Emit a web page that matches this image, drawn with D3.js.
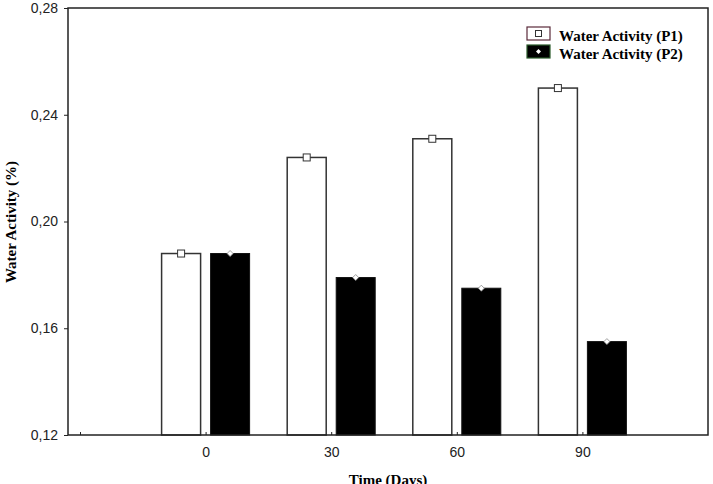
<!DOCTYPE html>
<html>
<head>
<meta charset="utf-8">
<script src="https://cdn.jsdelivr.net/npm/d3@7"></script>
<style>
  body { margin: 0; background: #fff; }
  svg { display: block; }
</style>
</head>
<body>
<svg id="chart" width="713" height="484"></svg>
<script>
// Data
const days = [0, 30, 60, 90];
const waterP1 = [0.188, 0.224, 0.231, 0.250];
const waterP2 = [0.188, 0.179, 0.175, 0.155];
const yTicks = [0.12, 0.16, 0.20, 0.24, 0.28];
const xTicks = [-30, 0, 30, 60, 90];
const seriesNames = ['Water Activity (P1)', 'Water Activity (P2)'];

const svg = d3.select('#chart');

// plot frame
const frame = { left: 68, right: 708, top: 8, bottom: 435 };

const x = d3.scaleLinear().domain([-30, 120]).range([80, 708]);
const y = d3.scaleLinear().domain([0.12, 0.28]).range([frame.bottom, frame.top]);

const barW = 39;
const offset = 24.5;

const fmt = d => d3.format('.2f')(d).replace('.', ',');

// bars, P1 (white)
svg.append('g').selectAll('rect')
  .data(days.map((d, i) => ({ day: d, v: waterP1[i] })))
  .enter().append('rect')
  .attr('x', d => x(d.day) - offset - barW / 2)
  .attr('y', d => y(d.v))
  .attr('width', barW)
  .attr('height', d => frame.bottom - y(d.v))
  .style('fill', '#fff')
  .style('stroke', '#333')
  .style('stroke-width', 1.5);

// bars, P2 (black)
svg.append('g').selectAll('rect')
  .data(days.map((d, i) => ({ day: d, v: waterP2[i] })))
  .enter().append('rect')
  .attr('x', d => x(d.day) + offset - barW / 2)
  .attr('y', d => y(d.v))
  .attr('width', barW)
  .attr('height', d => frame.bottom - y(d.v))
  .style('fill', '#000')
  .style('stroke', '#111')
  .style('stroke-width', 1);

// markers on top of bars
svg.append('g').selectAll('rect')
  .data(days.map((d, i) => ({ day: d, v: waterP1[i] })))
  .enter().append('rect')
  .attr('x', d => x(d.day) - offset - 3.5)
  .attr('y', d => y(d.v) - 3.5)
  .attr('width', 7)
  .attr('height', 7)
  .style('fill', '#fff')
  .style('stroke', '#333')
  .style('stroke-width', 1);

svg.append('g').selectAll('path')
  .data(days.map((d, i) => ({ day: d, v: waterP2[i] })))
  .enter().append('path')
  .attr('transform', d => `translate(${x(d.day) + offset},${y(d.v)})`)
  .attr('d', 'M0,-3L3,0L0,3L-3,0Z')
  .style('fill', '#fff')
  .style('stroke', '#888')
  .style('stroke-width', 0.8);

// frame
svg.append('rect')
  .attr('x', frame.left)
  .attr('y', frame.top)
  .attr('width', frame.right - frame.left)
  .attr('height', frame.bottom - frame.top)
  .style('fill', 'none')
  .style('stroke', '#222')
  .style('stroke-width', 1.5);

// y axis
const yAxis = d3.axisLeft(y)
  .tickValues(yTicks)
  .tickFormat(fmt)
  .tickSize(4)
  .tickPadding(6);

const gy = svg.append('g')
  .attr('transform', `translate(${frame.left},0)`)
  .call(yAxis);
gy.select('.domain').remove();
gy.selectAll('line').style('stroke', '#222');
gy.selectAll('text')
  .style('font-family', 'Liberation Sans, Arial, sans-serif')
  .style('font-size', '14px')
  .style('fill', '#222');

// x axis: small inward ticks, labels for 0..90 only
const xAxis = d3.axisBottom(x)
  .tickValues(xTicks)
  .tickFormat(d => d < 0 ? '' : d)
  .tickSize(-3)
  .tickPadding(12);

const gx = svg.append('g')
  .attr('transform', `translate(0,${frame.bottom})`)
  .call(xAxis);
gx.select('.domain').remove();
gx.selectAll('line').style('stroke', '#222');
gx.selectAll('text')
  .style('font-family', 'Liberation Sans, Arial, sans-serif')
  .style('font-size', '14px')
  .style('fill', '#222');

// axis titles
svg.append('text')
  .attr('transform', 'translate(16,222) rotate(-90)')
  .attr('text-anchor', 'middle')
  .style('font-family', 'Liberation Serif, Times New Roman, serif')
  .style('font-weight', 'bold')
  .style('font-size', '15px')
  .text('Water Activity (%)');

svg.append('text')
  .attr('x', 388)
  .attr('y', 485)
  .attr('text-anchor', 'middle')
  .style('font-family', 'Liberation Serif, Times New Roman, serif')
  .style('font-weight', 'bold')
  .style('font-size', '15px')
  .text('Time (Days)');

// legend
const legend = svg.append('g').attr('transform', 'translate(527,27)');
const legendRows = legend.selectAll('g')
  .data(seriesNames)
  .enter().append('g')
  .attr('transform', (d, i) => `translate(0,${i * 18})`);

legendRows.append('rect')
  .attr('width', 23)
  .attr('height', 13)
  .style('fill', (d, i) => i === 0 ? '#fff' : '#000')
  .style('stroke', (d, i) => i === 0 ? '#5a2a3a' : '#2a5a2a')
  .style('stroke-width', 1.2);

legendRows.append('rect')
  .filter((d, i) => i === 0)
  .attr('x', 8.5)
  .attr('y', 3.5)
  .attr('width', 6)
  .attr('height', 6)
  .style('fill', '#fff')
  .style('stroke', '#333')
  .style('stroke-width', 1);

legendRows.filter((d, i) => i === 1).append('path')
  .attr('transform', 'translate(11.5,6.5)')
  .attr('d', 'M0,-2.5L2.5,0L0,2.5L-2.5,0Z')
  .style('fill', '#fff');

legendRows.append('text')
  .attr('x', 32)
  .attr('y', 13.5)
  .style('font-family', 'Liberation Serif, Times New Roman, serif')
  .style('font-weight', 'bold')
  .style('font-size', '15px')
  .text(d => d);
</script>
</body>
</html>
